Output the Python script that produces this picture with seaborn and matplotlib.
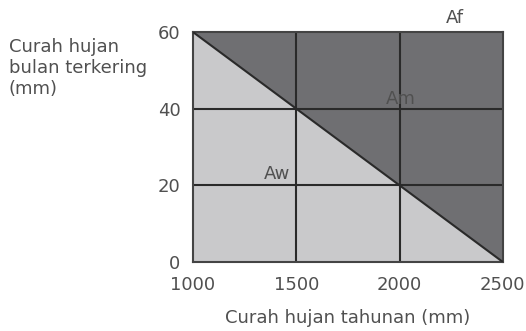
import matplotlib
matplotlib.use("Agg")
import matplotlib.pyplot as plt
import seaborn as sns
import pandas as pd

sns.set_style("white")
plt.rcParams['font.family'] = ['DejaVu Sans']

# Data
boundary_x = [1000, 2500]          # annual rainfall (mm)
boundary_y = [60, 0]               # driest-month rainfall (mm)
x_ticks = [1000, 1500, 2000, 2500]
y_ticks = [0, 20, 40, 60]
grid_x = [1500, 2000]
grid_y = [20, 40]
zone_labels = ["Af", "Am", "Aw"]
zone_x = [2270, 2007, 1407]
zone_y = [63.8, 42.5, 23]

TXT = "#505050"
DARK = "#6f6f72"
LIGHT = "#c9c9cb"
LINE = "#2a2a2a"
FS = 13

fig = plt.figure(figsize=(5.26, 3.31), dpi=100)
ax = fig.add_axes([0.367, 0.2085, 0.589, 0.6945])

df = pd.DataFrame({"x": boundary_x, "y": boundary_y})
ax.fill_between(boundary_x, boundary_y, [max(y_ticks)] * 2, color=DARK, lw=0, zorder=0)
ax.fill_between(boundary_x, [min(y_ticks)] * 2, boundary_y, color=LIGHT, lw=0, zorder=0)
sns.lineplot(data=df, x="x", y="y", ax=ax, color=LINE, lw=1.5, zorder=3)

for gx in grid_x:
    ax.axvline(gx, color=LINE, lw=1.5, zorder=2)
for gy in grid_y:
    ax.axhline(gy, color=LINE, lw=1.5, zorder=2)

ax.set_xlim(min(x_ticks), max(x_ticks))
ax.set_ylim(min(y_ticks), max(y_ticks))
ax.set_xticks(x_ticks)
ax.set_yticks(y_ticks)
ax.tick_params(axis="x", length=0, labelsize=FS, colors=TXT, pad=10)
ax.tick_params(axis="y", length=0, labelsize=FS, colors=TXT, pad=9)
for s in ax.spines.values():
    s.set_color("#444444")
    s.set_linewidth(1.5)

for lab, zx, zy in zip(zone_labels, zone_x, zone_y):
    ax.text(zx, zy, lab, ha="center", va="center", fontsize=FS, color=TXT,
            clip_on=False, zorder=4)

ax.set_xlabel("Curah hujan tahunan (mm)", fontsize=FS, color=TXT, labelpad=11)
ax.set_ylabel("")
fig.text(0.017, 0.885, "Curah hujan\nbulan terkering\n(mm)", ha="left", va="top",
         fontsize=FS, color=TXT, linespacing=1.2)

fig.savefig("out.png", dpi=100)
